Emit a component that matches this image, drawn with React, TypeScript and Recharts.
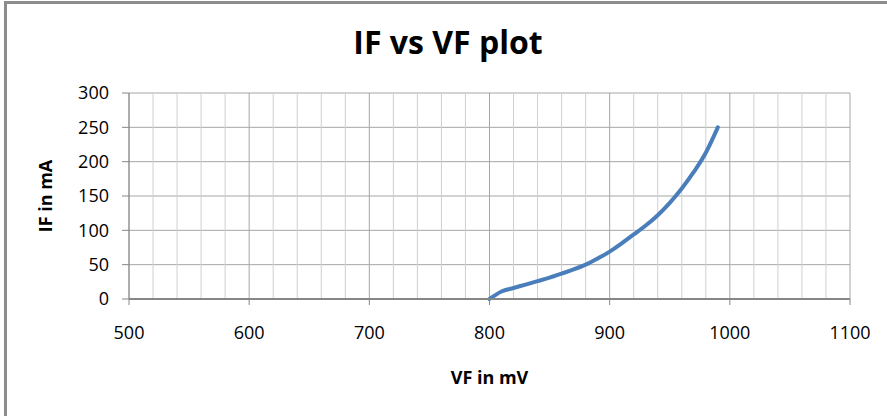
import React from 'react';
import { LineChart, Line, XAxis, YAxis, CartesianGrid, ReferenceLine, Label } from 'recharts';

const vfValues = [800, 810, 820, 830, 840, 850, 860, 870, 880, 890, 900, 910, 920, 930, 940, 950, 960, 970, 980, 990];
const ifValues = [0, 11, 16, 21, 26, 31, 37, 43, 50, 59, 69, 81, 94, 107, 122, 140, 161, 185, 213, 250];

const xTicks = [500, 600, 700, 800, 900, 1000, 1100];
const xMinorTicks = [520, 540, 560, 580, 620, 640, 660, 680, 720, 740, 760, 780, 820, 840, 860, 880, 920, 940, 960, 980, 1020, 1040, 1060, 1080];
const yTicks = [0, 50, 100, 150, 200, 250, 300];

const data = vfValues.map((vf, i) => ({ vf, ifv: ifValues[i] }));

const FONT = "'Open Sans', 'DejaVu Sans', sans-serif";

export default function App() {
  return (
    <div style={{ position: 'absolute', left: 0, top: 0, width: 887, height: 416, overflow: 'hidden', background: '#fff' }}>
      <div
        style={{
          position: 'absolute',
          left: 9,
          top: 20,
          width: 878,
          textAlign: 'center',
          fontFamily: FONT,
          fontWeight: 700,
          fontSize: 32,
          color: '#000',
        }}
      >
        IF vs VF plot
      </div>
      <div style={{ position: 'absolute', left: 0, top: 0 }}>
        <LineChart width={887} height={416} data={data} margin={{ top: 93, right: 37, left: 0, bottom: 0 }}>
          <CartesianGrid stroke="#a6a6a6" strokeWidth={1} />
          {xMinorTicks.map((v) => (
            <ReferenceLine key={v} x={v} stroke="#cfcfcf" strokeWidth={1} />
          ))}
          <XAxis
            type="number"
            dataKey="vf"
            domain={[500, 1100]}
            ticks={xTicks}
            interval={0}
            height={117}
            tickSize={6}
            tickMargin={21}
            axisLine={{ stroke: '#868686', strokeWidth: 2 }}
            tickLine={{ stroke: '#868686' }}
            tick={{ fill: '#000', fontSize: 18, fontFamily: FONT }}
          >
            <Label value="VF in mV" position="center" dy={20} style={{ fontFamily: FONT, fontWeight: 700, fontSize: 18, fill: '#000' }} />
          </XAxis>
          <YAxis
            type="number"
            domain={[0, 300]}
            ticks={yTicks}
            interval={0}
            width={129}
            tickSize={7}
            tickMargin={13}
            axisLine={{ stroke: '#868686', strokeWidth: 1 }}
            tickLine={{ stroke: '#868686' }}
            tick={{ fill: '#000', fontSize: 18, fontFamily: FONT }}
          >
            <Label value="IF in mA" position="center" angle={-90} dx={-19} style={{ fontFamily: FONT, fontWeight: 700, fontSize: 18, fill: '#000' }} />
          </YAxis>
          <Line
            type="monotone"
            dataKey="ifv"
            stroke="#4a7ebb"
            strokeWidth={4}
            strokeLinecap="round"
            dot={false}
            activeDot={false}
            isAnimationActive={false}
          />
        </LineChart>
      </div>
      <div
        style={{
          position: 'absolute',
          left: 4,
          top: 1,
          width: 1000,
          height: 500,
          borderLeft: '3px solid #8c8c8c',
          borderTop: '3px solid #8c8c8c',
          boxSizing: 'border-box',
          pointerEvents: 'none',
        }}
      />
    </div>
  );
}
